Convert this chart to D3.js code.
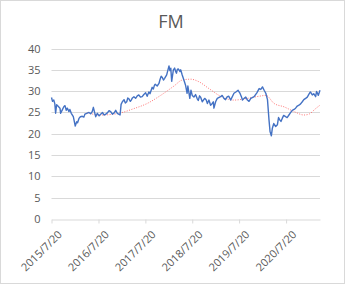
<!DOCTYPE html>
<html>
<head>
<meta charset="utf-8">
<script src="https://cdn.jsdelivr.net/npm/d3@7"></script>
<style>
  body { margin: 0; background: #fff; }
  svg text { font-family: "Open Sans", "Noto Sans", sans-serif; fill: #595959; }
</style>
</head>
<body>
<svg id="chart" width="345" height="284"></svg>
<script>
// price (blue)
var priceDates = [
  "2015-07-20","2015-07-28","2015-08-07","2015-08-15","2015-08-21","2015-08-29","2015-09-08","2015-09-24","2015-09-29","2015-10-12",
  "2015-10-25","2015-11-02","2015-11-12","2015-11-20","2015-12-03","2015-12-10","2015-12-21","2016-01-06","2016-01-21","2016-02-01",
  "2016-02-08","2016-02-19","2016-03-01","2016-03-16","2016-03-28","2016-04-05","2016-04-19","2016-05-07","2016-05-20","2016-06-01",
  "2016-06-10","2016-06-28","2016-07-11","2016-07-25","2016-08-06","2016-08-20","2016-09-01","2016-09-15","2016-09-27","2016-10-10",
  "2016-10-23","2016-11-05","2016-11-19","2016-12-01","2016-12-14","2017-01-04","2017-01-12","2017-01-22","2017-02-04","2017-02-14",
  "2017-02-25","2017-03-05","2017-03-14","2017-03-25","2017-04-01","2017-04-10","2017-04-22","2017-05-05","2017-05-18","2017-05-30",
  "2017-06-12","2017-06-25","2017-07-08","2017-07-22","2017-08-03","2017-08-16","2017-08-25","2017-09-11","2017-09-20","2017-09-29",
  "2017-10-05","2017-10-20","2017-11-03","2017-11-10","2017-11-20","2017-11-29","2017-12-08","2017-12-17","2018-01-02","2018-01-12",
  "2018-01-20","2018-01-27","2018-02-03","2018-02-10","2018-02-23","2018-03-05","2018-03-13","2018-03-19","2018-03-26","2018-04-02",
  "2018-04-16","2018-04-21","2018-05-03","2018-05-16","2018-05-29","2018-06-10","2018-06-16","2018-07-01","2018-07-10","2018-07-20",
  "2018-08-02","2018-08-15","2018-08-28","2018-09-05","2018-09-15","2018-09-23","2018-10-06","2018-10-25","2018-11-05","2018-11-15",
  "2018-11-27","2018-12-10","2018-12-20","2018-12-31","2019-01-05","2019-01-18","2019-01-31","2019-02-26","2019-03-10","2019-03-24",
  "2019-04-05","2019-04-19","2019-05-01","2019-05-15","2019-06-10","2019-06-25","2019-07-12","2019-07-25","2019-08-07","2019-08-15",
  "2019-08-28","2019-09-10","2019-09-23","2019-10-05","2019-10-19","2019-11-14","2019-12-05","2019-12-23","2020-01-05","2020-01-18",
  "2020-01-31","2020-02-13","2020-02-26","2020-03-09","2020-03-17","2020-03-27","2020-04-04","2020-04-15","2020-04-30","2020-05-13",
  "2020-05-22","2020-06-02","2020-06-10","2020-06-20","2020-07-01","2020-07-16","2020-07-28","2020-08-11","2020-08-25","2020-09-06",
  "2020-09-20","2020-10-02","2020-10-15","2020-10-28","2020-11-10","2020-11-23","2020-12-05","2020-12-19","2021-01-01","2021-01-14",
  "2021-01-25","2021-02-09","2021-02-20","2021-03-07","2021-03-14","2021-03-20","2021-03-28","2021-04-10"
];
var priceValues = [
  28.5,27.6,27.9,27.0,24.8,26.8,26.5,26.0,24.8,25.6,
  26.4,26.6,25.5,26.0,25.2,25.7,24.8,24.0,21.8,22.8,
  22.6,23.6,24.0,24.1,23.9,24.6,24.8,25.0,24.7,25.2,
  26.2,24.0,24.8,24.2,24.6,25.0,24.4,24.6,24.9,25.4,
  25.2,24.6,24.9,25.5,24.8,24.4,26.9,27.5,28.0,27.2,
  27.5,28.4,28.2,27.6,27.9,28.4,28.7,28.3,28.9,29.1,
  28.6,28.7,29.2,29.6,28.8,29.8,29.4,30.9,30.5,31.4,
  31.6,31.2,31.8,32.6,33.5,33.2,32.6,33.0,33.8,35.0,
  35.9,34.8,35.4,32.3,35.0,35.4,34.6,34.2,35.1,35.2,
  34.6,35.0,33.8,32.6,31.4,29.5,31.2,28.3,30.2,29.0,
  28.6,29.2,28.2,27.8,28.9,28.6,27.5,28.3,28.0,27.1,
  27.9,26.7,27.0,27.5,26.0,27.5,28.3,28.7,29.0,28.3,
  28.0,28.7,28.8,27.9,29.5,29.8,30.2,29.6,28.7,27.9,
  28.3,28.6,27.9,27.6,28.3,28.7,29.6,30.6,30.4,31.0,
  30.2,29.5,28.0,23.2,20.5,19.5,21.3,22.4,21.7,22.1,
  23.8,23.2,22.9,23.6,24.3,24.0,23.8,24.4,25.0,25.5,
  25.7,26.0,26.5,26.7,27.0,27.5,28.0,28.3,28.6,29.3,
  29.8,29.1,29.4,28.7,29.9,29.6,29.0,30.2
];

// moving average (red dotted)
var maDates = [
  "2016-04-24","2016-08-06","2016-11-19","2017-01-09","2017-04-22","2017-08-03","2017-11-16","2018-02-28","2018-05-03","2018-07-08",
  "2018-09-10","2018-11-27","2019-02-26","2019-06-10","2019-09-23","2019-12-23","2020-02-13","2020-04-18","2020-07-05","2020-09-20",
  "2020-12-06","2021-01-14","2021-03-07","2021-04-10"
];
var maValues = [
  24.9,24.4,24.6,24.9,25.9,27.1,29.0,31.2,32.6,32.8,
  32.2,30.6,28.8,27.9,28.3,28.8,29.0,27.1,26.3,25.2,
  24.4,24.6,25.9,26.7
];

var xTicks = ["2015-07-20","2016-07-20","2017-07-20","2018-07-20","2019-07-20","2020-07-20"];
var yTicks = [0, 5, 10, 15, 20, 25, 30, 35, 40];
var title = "FM";

var parse = d3.timeParse("%Y-%m-%d");
var fmt = d3.timeFormat("%Y/%-m/%-d");

var price = priceDates.map(function (d, i) { return { date: parse(d), v: priceValues[i] }; })
  .sort(function (a, b) { return a.date - b.date; });
var ma = maDates.map(function (d, i) { return { date: parse(d), v: maValues[i] }; });

var svg = d3.select("#chart");
var margin = { left: 51.5, right: 25, top: 48.5, bottom: 65 };
var W = 345, H = 284;

// outer chart border
svg.append("rect")
  .attr("x", 0.5).attr("y", 0.5)
  .attr("width", W - 1).attr("height", H - 1)
  .attr("fill", "#fff").attr("stroke", "#d9d9d9");

svg.append("text")
  .attr("x", 171).attr("y", 28)
  .attr("text-anchor", "middle")
  .style("font-size", "18px")
  .text(title);

var x = d3.scaleTime()
  .domain(d3.extent(price, function (d) { return d.date; }))
  .range([margin.left, W - margin.right]);

var y = d3.scaleLinear()
  .domain([0, 40])
  .range([219, margin.top]);

// gridlines
svg.append("g")
  .selectAll("line")
  .data(yTicks.slice(1))
  .enter().append("line")
  .attr("x1", margin.left).attr("x2", W - margin.right)
  .attr("y1", function (d) { return Math.round(y(d)) + 0.5; })
  .attr("y2", function (d) { return Math.round(y(d)) + 0.5; })
  .attr("stroke", "#d9d9d9");

// y axis labels
var yAxis = d3.axisLeft(y).tickValues(yTicks).tickSize(0).tickPadding(11);
var gy = svg.append("g").attr("transform", "translate(" + margin.left + ",0)").call(yAxis);
gy.select(".domain").remove();
gy.selectAll("text").style("font-size", "11px").attr("fill", "#595959");

// x axis
var xAxis = d3.axisBottom(x)
  .tickValues(xTicks.map(parse))
  .tickFormat(fmt)
  .tickSize(4)
  .tickSizeOuter(0);
var gx = svg.append("g").attr("transform", "translate(0," + (Math.round(y(0)) + 0.5) + ")").call(xAxis);
gx.select(".domain").attr("stroke", "#d9d9d9");
gx.selectAll(".tick line").attr("stroke", "#d9d9d9");
gx.selectAll("text")
  .style("font-size", "11px")
  .attr("fill", "#595959")
  .attr("text-anchor", "end")
  .attr("dy", "0.35em")
  .attr("transform", "translate(3,8) rotate(-45)");

var line = d3.line()
  .x(function (d) { return x(d.date); })
  .y(function (d) { return y(d.v); });

svg.append("path")
  .datum(ma)
  .attr("d", line.curve(d3.curveMonotoneX))
  .attr("fill", "none")
  .attr("stroke", "#ff5a5a")
  .attr("stroke-width", 1)
  .attr("stroke-dasharray", "1,1.5")
  .attr("opacity", 0.85);

svg.append("path")
  .datum(price)
  .attr("d", line.curve(d3.curveLinear))
  .attr("fill", "none")
  .attr("stroke", "#4472c4")
  .attr("stroke-width", 1.4)
  .attr("stroke-linejoin", "round");
</script>
</body>
</html>
